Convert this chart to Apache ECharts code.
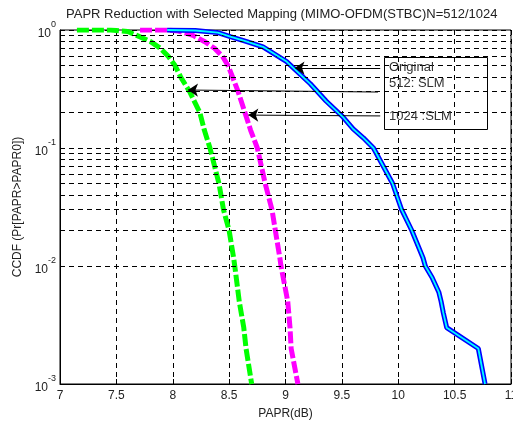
<!DOCTYPE html>
<html>
<head>
<meta charset="utf-8">
<script src="https://cdn.jsdelivr.net/npm/echarts@6/dist/echarts.min.js"></script>
<style>html,body{margin:0;padding:0;background:#fff}#c{width:513px;height:423px}</style>
</head>
<body>
<div id="c"></div>
<script>
// ---- data ----
const titleText = 'PAPR Reduction with Selected Mapping (MIMO-OFDM(STBC)N=512/1024';
const xName = 'PAPR(dB)';
const yName = 'CCDF (Pr[PAPR>PAPR0])';
const legendNames = ['Original', '512: SLM', '1024 :SLM'];

const origX = [7.95, 8.2, 8.4, 8.51, 8.65, 8.80, 9.01, 9.22, 9.36, 9.51, 9.60, 9.69, 9.78, 9.95, 10.03, 10.12, 10.22, 10.24, 10.30, 10.36, 10.38, 10.40, 10.43, 10.71, 10.77];
const origY = [1.0, 0.99, 0.95, 0.88, 0.80, 0.72, 0.54, 0.35, 0.25, 0.183, 0.145, 0.122, 0.1, 0.05, 0.03, 0.02, 0.0117, 0.01, 0.008, 0.006, 0.005, 0.004, 0.003, 0.002, 0.001];

const slm512X = [7.15, 7.45, 7.6, 7.68, 7.80, 7.89, 7.96, 8.02, 8.07, 8.15, 8.24, 8.28, 8.33, 8.41, 8.45, 8.50, 8.54, 8.55, 8.59, 8.63, 8.65, 8.70];
const slm512Y = [1.0, 1.0, 0.97, 0.9, 0.8, 0.7, 0.6, 0.5, 0.4, 0.3, 0.2, 0.142, 0.1, 0.05, 0.03, 0.02, 0.0117, 0.01, 0.005, 0.003, 0.002, 0.001];

const slm1024X = [7.71, 7.95, 8.05, 8.18, 8.28, 8.37, 8.44, 8.49, 8.53, 8.58, 8.64, 8.69, 8.75, 8.82, 8.88, 8.91, 8.95, 8.96, 9.02, 9.04, 9.05, 9.11];
const slm1024Y = [1.0, 1.0, 0.98, 0.9, 0.8, 0.7, 0.6, 0.5, 0.4, 0.3, 0.2, 0.142, 0.1, 0.05, 0.03, 0.02, 0.0117, 0.01, 0.005, 0.003, 0.002, 0.001];

const minorGridY = [0.002,0.003,0.004,0.005,0.006,0.007,0.008,0.009,
                    0.02,0.03,0.04,0.05,0.06,0.07,0.08,0.09,
                    0.2,0.3,0.4,0.5,0.6,0.7,0.8,0.9];

// annotation arrows: [fromX, fromY, toX, toY]
const arrowOrig = [9.84, 0.476, 9.08, 0.476];
const arrow512 = [9.82, 0.298, 8.135, 0.31];
const arrow1024 = [9.84, 0.187, 8.67, 0.19];

const pairs = (xs, ys) => xs.map((x, i) => [x, ys[i]]);

const font = 'Liberation Sans, Arial, Helvetica, sans-serif';
const txt = '#222';

const chart = echarts.init(document.getElementById('c'), null, {renderer: 'canvas'});

const arrowLine = (a) => [{coord: [a[0], a[1]]}, {coord: [a[2], a[3]]}];

chart.setOption({
  animation: false,
  backgroundColor: '#fff',
  title: {
    text: titleText,
    left: 61, top: 3,
    textStyle: {fontSize: 13, fontWeight: 'normal', color: txt, fontFamily: font}
  },
  grid: {left: 60, right: 2, top: 30, bottom: 39, show: true, borderColor: '#000', borderWidth: 1,
         backgroundColor: 'transparent', containLabel: false, outerBoundsMode: 'none'},
  xAxis: {
    type: 'value', min: 7, max: 11, interval: 0.5,
    name: xName, nameLocation: 'middle', nameGap: 24,
    nameTextStyle: {fontSize: 12, color: txt, fontFamily: font},
    axisLine: {show: true, lineStyle: {color: '#000', width: 1}},
    axisTick: {show: true, inside: true, length: 5, lineStyle: {color: '#000'}},
    axisLabel: {fontSize: 12, color: txt, fontFamily: font, margin: 6, hideOverlap: false,
      showMinLabel: true, showMaxLabel: true,
      formatter: v => String(v)},
    splitLine: {show: true, lineStyle: {color: '#000', type: [5, 4], width: 1}}
  },
  yAxis: {
    type: 'log', logBase: 10, min: 0.001, max: 1,
    name: yName, nameLocation: 'middle', nameGap: 35,
    nameTextStyle: {fontSize: 12, color: txt, fontFamily: font},
    axisLine: {show: true, lineStyle: {color: '#000', width: 1}},
    axisTick: {show: true, inside: true, length: 5, lineStyle: {color: '#000'}},
    axisLabel: {
      margin: 4, color: txt, fontFamily: font,
      formatter: v => '{b|10}{e|' + Math.round(Math.log10(v)) + '}',
      rich: {
        b: {fontSize: 12, color: txt, fontFamily: font, verticalAlign: 'bottom', lineHeight: 14},
        e: {fontSize: 9, color: txt, fontFamily: font, verticalAlign: 'top', lineHeight: 20}
      }
    },
    splitLine: {show: true, lineStyle: {color: '#000', type: [5, 4], width: 1}}
  },
  series: [
    {
      type: 'line', name: 'grid', data: [], silent: true,
      markLine: {
        silent: true, symbol: ['none', 'none'], animation: false,
        label: {show: false},
        lineStyle: {color: '#000', type: [5, 4], width: 1},
        emphasis: {disabled: true},
        data: minorGridY.map(v => ({yAxis: v}))
      }
    },
    {
      type: 'line', name: legendNames[1], data: pairs(slm512X, slm512Y),
      showSymbol: false, symbol: 'none', z: 3,
      lineStyle: {color: '#00ff00', width: 5, type: [12, 3]}
    },
    {
      type: 'line', name: legendNames[2], data: pairs(slm1024X, slm1024Y),
      showSymbol: false, symbol: 'none', z: 3,
      lineStyle: {color: '#ff00ff', width: 5, type: [12, 3]}
    },
    {
      type: 'line', name: legendNames[0], data: pairs(origX, origY),
      showSymbol: false, symbol: 'none', z: 4,
      lineStyle: {color: '#0000ff', width: 5}
    },
    {
      type: 'line', name: legendNames[0] + ' inner', data: pairs(origX, origY),
      showSymbol: false, symbol: 'none', z: 5,
      lineStyle: {color: '#00ffff', width: 1.8},
      markLine: {
        silent: true, symbol: ['none', 'arrow'], symbolSize: 10, animation: false,
        label: {show: false},
        lineStyle: {color: '#000', type: 'solid', width: 1},
        itemStyle: {color: '#000'},
        emphasis: {disabled: true},
        data: [arrowLine(arrowOrig), arrowLine(arrow512), arrowLine(arrow1024)]
      }
    }
  ],
  graphic: [
    {type: 'rect', left: 382, top: 55, z: 10, silent: true,
     shape: {width: 103, height: 72}, style: {fill: 'none', stroke: '#000', lineWidth: 1}},
    {type: 'text', left: 389, top: 61, z: 11, style: {text: legendNames[0], fontSize: 13, fill: '#333', fontFamily: font}},
    {type: 'text', left: 389, top: 77, z: 11, style: {text: legendNames[1], fontSize: 13, fill: '#333', fontFamily: font}},
    {type: 'text', left: 389, top: 110, z: 11, style: {text: legendNames[2], fontSize: 13, fill: '#333', fontFamily: font}}
  ]
});
</script>
</body>
</html>
